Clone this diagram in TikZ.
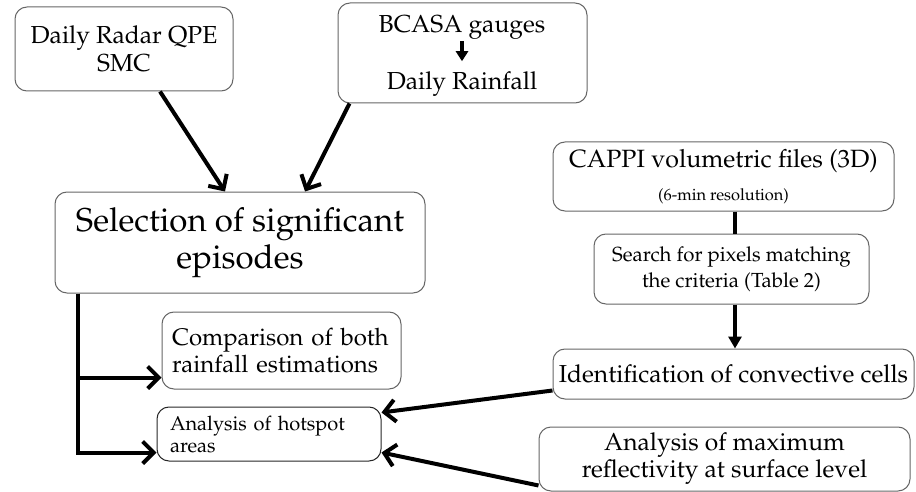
\documentclass[tikz,border=0pt]{standalone}
\usepackage[T1]{fontenc}
\usepackage{mathpazo}
\usepackage{tikz}
\usetikzlibrary{arrows.meta,positioning}
\newcommand{\fsz}[2]{\fontsize{#1}{#2}\selectfont}

\begin{document}
\begin{tikzpicture}[
  x=0.5pt, y=-0.5pt,
  node distance=11pt and 11pt,
  box/.style={draw=gray!80!black, line width=0.5pt, rounded corners=6pt,
              align=center, inner sep=0pt, font=\fsz{12.3}{14}},
  arr/.style={-{Straight Barb[length=5.5pt,width=11pt]}, line width=2pt},
  flow/.style={-{Triangle[length=6pt,width=6.5pt]}, line width=1.6pt},
  small/.style={-{Triangle[length=5pt,width=6pt]}, line width=1.6pt}
]
\useasboundingbox (0,0) rectangle (916,492);

\node[box, minimum width=109pt, minimum height=42pt] (radar) at (124,49) {Daily Radar QPE\\SMC};
\node[box, minimum width=124.5pt, minimum height=50pt] (gauges) at (462.5,53) {};
\node[font=\fsz{12.3}{14}, inner sep=1pt] (bcasa) at (462,27) {BCASA gauges};
\node[font=\fsz{12.3}{14}, inner sep=1pt] (rain) at (462,84) {Daily Rainfall};
\node[box, minimum width=185pt, minimum height=50.5pt, font=\fsz{16.5}{18.5}] (select) at (240,242.5) {Selection of significant\\episodes};
\node[box, minimum width=119.5pt, minimum height=38.5pt, align=left, text width=109.5pt, inner xsep=5pt,
      font=\fsz{12}{13.5}] (compare) at (281.5,350.5) {Comparison of both\\rainfall estimations};
\node[box, draw=black!85, minimum width=112pt, minimum height=27pt, align=left, text width=99pt, inner xsep=6.5pt,
      font=\fsz{10}{11}] (hotspot) at (269,434) {Analysis of hotspot\\areas};

\node[box, minimum width=170.5pt, minimum height=34.5pt, font=\fsz{12.5}{14}] (cappi) at (723.5,176.5)
  {CAPPI volumetric files (3D)\\[2.5pt]{\fsz{8.2}{9}(6-min resolution)}};
\node[box, minimum width=137.5pt, minimum height=35pt, font=\fsz{10.2}{13}, below=11pt of cappi, xshift=4pt] (search)
  {Search for pixels matching\\the criteria (Table 2)};
\node[box, minimum width=180.5pt, minimum height=25pt, below=22pt of search, xshift=1pt] (ident)
  {Identification of convective cells};
\node[box, minimum width=185.5pt, minimum height=32pt, font=\fsz{12.3}{13.5}] (maxrefl) at (724.5,459)
  {Analysis of maximum\\reflectivity at surface level};

\draw[small, shorten >=4pt] (bcasa) -- (rain);
\draw[arr] ([xshift=18pt]radar.south) -- ([xshift=-7.5pt]select.north);
\draw[arr] ([xshift=6pt]gauges.south west) -- ([xshift=32.5pt]select.north);
\draw[arr] ([xshift=11.5pt]select.south west) |- ([yshift=6pt]compare.south west);
\draw[arr] ([xshift=11.5pt]select.south west) |- ([yshift=4.5pt]hotspot.south west);
\draw[line width=2pt] ([xshift=5.75pt]cappi.south) -- ([xshift=5.75pt]cappi.south |- search.north);
\draw[flow] ([xshift=1.75pt]search.south) -- ([xshift=1.75pt]search.south |- ident.north);
\draw[arr] ([yshift=4.5pt]ident.south west) -- ([yshift=-3pt]hotspot.north east);
\draw[arr] ([yshift=3pt]maxrefl.south west) -- ([yshift=4.5pt]hotspot.south east);
\end{tikzpicture}
\end{document}
